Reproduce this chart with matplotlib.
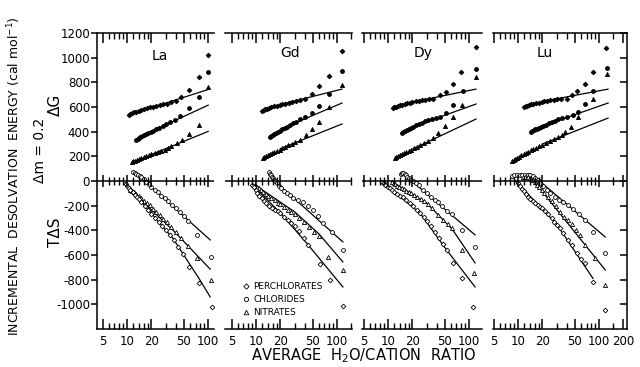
import matplotlib
matplotlib.use('Agg')
import matplotlib.pyplot as plt
from matplotlib.lines import Line2D
from matplotlib.ticker import FixedLocator, NullFormatter

plt.rcParams['font.family'] = 'DejaVu Sans'
plt.rcParams['axes.unicode_minus'] = False
plt.rcParams['axes.linewidth'] = 1.1

# ---- La ----
LA_G_PER = ([10.5, 11, 11.6, 12.3, 13, 14, 15, 16, 17.5, 19, 21, 23, 25.5, 28, 31, 35, 40, 46, 58, 77, 100],
            [535, 542, 549, 556, 563, 571, 578, 584, 591, 597, 603, 609, 616, 622, 628, 638, 652, 678, 740, 845, 1020])
LA_G_PER_FIT = ([18, 100], [585, 742])
LA_G_CHL = ([13, 13.5, 14, 14.6, 15.3, 16, 17, 18, 19.5, 21, 23, 25, 27.5, 30, 34, 39, 45, 58, 77, 100],
            [332, 340, 347, 354, 362, 369, 378, 387, 398, 408, 421, 433, 446, 460, 478, 498, 525, 590, 680, 885])
LA_G_CHL_FIT = ([20, 100], [402, 615])
LA_G_NIT = ([11.5, 12, 12.6, 13.3, 14, 15, 16, 17, 18.5, 20, 22, 24, 26.5, 29, 32, 35, 41, 48, 58, 77, 100],
            [155, 160, 166, 173, 179, 187, 195, 202, 210, 217, 226, 235, 244, 254, 266, 280, 305, 335, 385, 455, 760])
LA_G_NIT_FIT = ([20, 100], [215, 402])
LA_S_CHL = ([12, 12.5, 13, 13.6, 14.3, 15, 16, 17, 18.5, 20, 22, 24, 26.5, 29, 32, 36, 40, 45, 50, 57, 73, 109],
            [72, 64, 57, 48, 40, 30, 13, -6, -27, -46, -70, -92, -118, -140, -165, -195, -222, -252, -280, -325, -437, -615])
LA_S_CHL_FIT = ([15.8, 106], [10, -478])
LA_S_NIT = ([10.9, 11.5, 12.2, 13, 14, 15, 16.3, 17.5, 19, 21, 23, 25.5, 28, 31, 35, 40, 46, 57, 73, 109],
            [-72, -82, -93, -107, -125, -140, -160, -178, -198, -225, -250, -278, -305, -335, -372, -410, -462, -525, -624, -802])
LA_S_NIT_FIT = ([10.5, 37, 106], [-60, -400, -715])
LA_S_PER = ([9.6, 10, 10.5, 11, 11.7, 12.4, 13.2, 14, 15, 16.5, 18, 20, 22, 24.5, 27, 30, 34, 38, 43, 49, 58, 77, 112],
            [-25, -38, -55, -70, -90, -110, -130, -148, -172, -203, -232, -265, -298, -332, -362, -398, -440, -475, -535, -595, -697, -826, -1020])
LA_S_PER_FIT = ([9.4, 37, 77, 106], [-16, -467, -790, -940])

# ---- Gd ----
GD_G_PER = ([11.9, 12.4, 13, 13.7, 14.5, 15.5, 16.5, 18, 19.5, 21, 23, 25.5, 28, 31, 35, 40, 48.5, 60, 80, 115],
            [567, 574, 580, 587, 593, 599, 605, 611, 617, 622, 628, 634, 640, 646, 655, 664, 705, 770, 850, 1053])
GD_G_PER_FIT = ([20, 115], [620, 745])
GD_G_CHL = ([14.9, 15.4, 16, 16.7, 17.5, 18.5, 19.5, 21, 22.5, 24, 26, 28.5, 31, 35, 40, 48.5, 60, 80, 115],
            [356, 364, 372, 380, 389, 398, 407, 418, 430, 441, 454, 467, 480, 499, 518, 551, 608, 705, 891])
GD_G_CHL_FIT = ([20, 115], [420, 632])
GD_G_NIT = ([12.2, 12.7, 13.3, 14, 14.8, 15.7, 16.7, 18, 19.5, 21, 23, 25, 27.5, 30.5, 35, 41, 48.5, 60, 80, 115],
            [186, 193, 200, 208, 216, 225, 234, 244, 255, 265, 278, 290, 303, 316, 332, 373, 421, 478, 600, 778])
GD_G_NIT_FIT = ([20, 115], [262, 462])
GD_S_CHL = ([14.6, 14.9, 15.2, 15.6, 16, 16.6, 17.3, 18, 19, 20.5, 22, 24, 26, 29, 33, 38, 44, 50.5, 58, 67, 87, 118],
            [70, 58, 46, 36, 25, 12, -2, -20, -42, -60, -78, -98, -113, -135, -155, -170, -200, -235, -285, -340, -413, -560])
GD_S_CHL_FIT = ([17, 118], [0, -494])
GD_S_NIT = ([9.7, 10.2, 10.8, 11.5, 12.3, 13.2, 14.2, 15.5, 17, 18.5, 20, 22, 24.5, 27, 30, 34, 39, 45, 52, 60, 77, 118],
            [-32, -45, -60, -75, -92, -108, -122, -140, -158, -176, -190, -210, -232, -252, -270, -300, -335, -370, -410, -445, -616, -721])
GD_S_NIT_FIT = ([9.7, 30, 60, 118], [-32, -250, -430, -656])
GD_S_PER = ([9, 9.4, 9.9, 10.4, 11, 11.7, 12.5, 13.4, 14.5, 15.7, 17, 18.5, 20, 22, 24.5, 27, 30, 34, 39, 44, 62, 82, 118],
            [-32, -52, -75, -97, -118, -140, -162, -182, -200, -215, -232, -246, -262, -288, -315, -338, -368, -405, -460, -518, -672, -802, -1012])
GD_S_PER_FIT = ([9, 20, 44, 118], [-30, -259, -518, -859])

# ---- Dy ----
DY_G_PER = ([11.5, 12, 12.6, 13.3, 14, 15, 16, 17.2, 18.5, 20, 22, 24, 26.5, 29, 32, 35.9, 43.9, 52, 63, 79.6, 122],
            [591, 597, 603, 609, 614, 620, 626, 631, 636, 641, 646, 651, 656, 660, 664, 668, 697, 721, 786, 883, 1085])
DY_G_PER_FIT = ([20, 122], [640, 745])
DY_G_CHL = ([14.9, 15.5, 16.2, 17, 18, 19, 20.5, 22, 24, 26, 28.5, 31.5, 35, 39, 43.9, 52, 63, 85, 122],
            [389, 397, 405, 413, 422, 431, 441, 451, 462, 472, 483, 494, 505, 512, 518, 551, 616, 729, 907])
DY_G_CHL_FIT = ([20, 122], [438, 624])
DY_G_NIT = ([12.2, 12.7, 13.3, 14, 14.8, 15.7, 16.7, 18, 19.5, 21, 23, 25, 27.5, 31, 35.9, 41.5, 50.5, 63, 82, 122],
            [186, 192, 199, 207, 215, 223, 232, 243, 254, 265, 279, 292, 307, 326, 348, 389, 446, 518, 616, 842])
DY_G_NIT_FIT = ([20, 122], [258, 502])
DY_S_CHL = ([14.5, 15, 15.5, 16, 16.6, 17.3, 18, 19, 20.5, 22, 24, 27, 30, 34, 38, 41.5, 47, 54, 61.6, 82, 119],
            [60, 66, 62, 55, 45, 35, 25, 12, -3, -15, -35, -70, -95, -130, -155, -170, -200, -240, -270, -397, -535])
DY_S_CHL_FIT = ([18, 119], [20, -437])
DY_S_NIT = ([11.2, 11.7, 12.3, 13, 13.8, 14.7, 15.7, 16.8, 18, 19.5, 21, 23, 25.5, 28, 31, 35, 41.5, 48, 55, 61.6, 82, 115],
            [-8, -18, -28, -38, -48, -58, -68, -78, -88, -100, -112, -128, -148, -165, -185, -215, -275, -315, -350, -381, -559, -745])
DY_S_NIT_FIT = ([11, 30, 62, 119], [-5, -178, -390, -664])
DY_S_PER = ([8.4, 8.8, 9.3, 9.9, 10.5, 11.2, 12, 12.9, 14, 15.3, 16.8, 18.5, 20.5, 22.5, 24.8, 27.5, 30.5, 34, 38, 43, 48, 53, 63, 82, 112],
            [-8, -20, -33, -47, -60, -74, -88, -103, -118, -130, -152, -178, -205, -232, -259, -290, -322, -362, -410, -465, -510, -559, -664, -786, -1020])
DY_S_PER_FIT = ([8.4, 24.8, 53, 119], [-8, -259, -559, -859])

# ---- Lu ----
LU_G_PER = ([11.9, 12.4, 13, 13.7, 14.5, 15.5, 16.5, 18, 19.5, 21, 23, 25, 27.5, 30.5, 34, 40.3, 46.4, 53, 67, 84, 122],
            [600, 605, 611, 616, 621, 626, 631, 636, 641, 645, 650, 654, 658, 661, 663, 664, 697, 729, 786, 883, 1077])
LU_G_PER_FIT = ([20, 129], [645, 745])
LU_G_CHL = ([14.5, 15, 15.6, 16.3, 17.1, 18, 19, 20.5, 22, 24, 26, 28.5, 31.5, 35, 40, 47.7, 55, 67, 84, 125],
            [397, 404, 411, 418, 425, 432, 440, 449, 458, 468, 478, 489, 500, 511, 522, 535, 559, 624, 729, 915])
LU_G_CHL_FIT = ([20, 129], [446, 632])
LU_G_NIT = ([8.4, 8.8, 9.3, 9.8, 10.4, 11, 11.7, 12.5, 13.4, 14.4, 15.5, 16.8, 18.3, 20, 22, 24.5, 27.5, 31, 34.5, 38, 45, 55, 84, 125],
            [162, 170, 180, 189, 198, 207, 217, 227, 238, 248, 259, 270, 282, 295, 307, 322, 338, 356, 375, 395, 437, 518, 664, 867])
LU_G_NIT_FIT = ([20, 129], [300, 510])
LU_S_CHL = ([8.4, 9, 9.7, 10.5, 11.3, 12.2, 13.2, 14.2, 15.2, 16.3, 17.5, 18.8, 20.5, 22.5, 25, 28.6, 32, 36, 41.5, 48, 56, 67, 84, 119],
            [42, 45, 48, 46, 50, 47, 49, 45, 38, 25, 5, -18, -40, -70, -98, -130, -152, -172, -194, -230, -268, -316, -413, -583])
LU_S_CHL_FIT = ([17, 119], [20, -454])
LU_S_NIT = ([11.5, 12.3, 13.2, 14.2, 15.3, 16.2, 17.2, 18.3, 19.5, 21, 23.5, 26, 29, 33, 37, 41.5, 46, 52, 58, 67, 89, 119],
            [30, 35, 32, 28, 10, -10, -30, -50, -70, -95, -130, -165, -205, -251, -290, -320, -350, -395, -440, -518, -624, -842])
LU_S_NIT_FIT = ([15, 119], [15, -721])
LU_S_PER = ([10, 10.5, 11.1, 11.8, 12.5, 13.3, 14.2, 15.2, 16.3, 17.5, 18.8, 19.8, 21.5, 23.5, 26, 28, 30.3, 33, 36, 41.5, 46, 53, 60, 67, 84, 119],
            [-16, -38, -62, -85, -108, -130, -148, -165, -180, -196, -210, -219, -240, -268, -300, -330, -356, -385, -420, -478, -520, -583, -630, -664, -818, -1045])
LU_S_PER_FIT = ([9, 30, 84], [10, -350, -790])

names = ['La', 'Gd', 'Dy', 'Lu']
y_ticks = [-1000, -800, -600, -400, -200, 0, 200, 400, 600, 800, 1000, 1200]
minor_x = [6, 7, 8, 9, 12, 14, 16, 18, 30, 40, 60, 70, 80, 90, 150]
legend_labels = ['PERCHLORATES', 'CHLORIDES', 'NITRATES']

W, H = 640, 367
# pixel layout of each panel: left, width, xlim
layout = [(97, 117, (4.26, 118)), (225, 127, (4.14, 153)),
          (362, 120, (4.77, 145)), (493, 134, (4.91, 221))]

data = [
    [(LA_G_PER, LA_G_PER_FIT, 'D', True), (LA_G_CHL, LA_G_CHL_FIT, 'o', True), (LA_G_NIT, LA_G_NIT_FIT, '^', True),
     (LA_S_CHL, LA_S_CHL_FIT, 'o', False), (LA_S_NIT, LA_S_NIT_FIT, '^', False), (LA_S_PER, LA_S_PER_FIT, 'D', False)],
    [(GD_G_PER, GD_G_PER_FIT, 'D', True), (GD_G_CHL, GD_G_CHL_FIT, 'o', True), (GD_G_NIT, GD_G_NIT_FIT, '^', True),
     (GD_S_CHL, GD_S_CHL_FIT, 'o', False), (GD_S_NIT, GD_S_NIT_FIT, '^', False), (GD_S_PER, GD_S_PER_FIT, 'D', False)],
    [(DY_G_PER, DY_G_PER_FIT, 'D', True), (DY_G_CHL, DY_G_CHL_FIT, 'o', True), (DY_G_NIT, DY_G_NIT_FIT, '^', True),
     (DY_S_CHL, DY_S_CHL_FIT, 'o', False), (DY_S_NIT, DY_S_NIT_FIT, '^', False), (DY_S_PER, DY_S_PER_FIT, 'D', False)],
    [(LU_G_PER, LU_G_PER_FIT, 'D', True), (LU_G_CHL, LU_G_CHL_FIT, 'o', True), (LU_G_NIT, LU_G_NIT_FIT, '^', True),
     (LU_S_CHL, LU_S_CHL_FIT, 'o', False), (LU_S_NIT, LU_S_NIT_FIT, '^', False), (LU_S_PER, LU_S_PER_FIT, 'D', False)],
]

sizes = {'D': 2.4, 'o': 2.8, '^': 3.0}

fig = plt.figure(figsize=(W / 100, H / 100), dpi=100)
bottom, height = (H - 329) / H, 296 / H
axes = []

for i, (left, width, xlim) in enumerate(layout):
    ax = fig.add_axes([left / W, bottom, width / W, height])
    axes.append(ax)
    ax.set_xscale('log')
    ax.set_xlim(xlim)
    ax.set_ylim(-1200, 1200)

    for (x, y), (fx, fy), mk, filled in data[i]:
        ax.plot(fx, fy, color='k', lw=0.9)
        ax.plot(x, y, ls='none', marker=mk, ms=sizes[mk], mfc='k' if filled else 'white',
                mec='k', mew=0.6)

    major = [5, 10, 20, 50, 100] + ([200] if i == 3 else [])
    minor = [m for m in minor_x if xlim[0] < m < xlim[1]]
    ax.set_xticks(major, [str(m) for m in major])
    ax.xaxis.set_minor_locator(FixedLocator(minor))
    ax.xaxis.set_minor_formatter(NullFormatter())
    ax.tick_params(axis='x', which='both', direction='in', top=True, bottom=True,
                   labelsize=8.5, pad=4)
    ax.tick_params(axis='x', which='major', length=7, width=1.1)
    ax.tick_params(axis='x', which='minor', length=4.5, width=1.0)

    # zero line with crossing ticks
    ax.axhline(0, color='k', lw=1.1)
    ax.plot(major, [0] * len(major), ls='none', marker='|', ms=9, mew=1.1, color='k')
    ax.plot(minor, [0] * len(minor), ls='none', marker='|', ms=6, mew=1.0, color='k')

    ax.set_yticks(y_ticks)
    if i == 0:
        ax.spines['right'].set_visible(False)
        ax.tick_params(axis='y', direction='out', left=True, right=False, length=4,
                       width=1.1, labelsize=8.5, pad=1)
    elif i == 3:
        ax.spines['left'].set_visible(False)
        ax.tick_params(axis='y', direction='in', left=False, right=True, labelleft=False,
                       length=5, width=1.1)
    else:
        ax.spines['left'].set_visible(False)
        ax.spines['right'].set_visible(False)
        ax.tick_params(axis='y', left=False, right=False, labelleft=False)

# panel names
for name, (px, py) in zip(names, [(160, 56), (290, 53), (423, 53), (545, 53)]):
    fig.text(px / W, 1 - py / H, name, ha='center', va='center', fontsize=10)

# legend in Gd panel
handles = [Line2D([], [], ls='none', marker=m, ms=sizes[m] + 0.3, mfc='white', mec='k', mew=0.6)
           for m in ['D', 'o', '^']]
axes[1].legend(handles, legend_labels, loc='center left', bbox_to_anchor=(0.14, 0.10),
               frameon=False, fontsize=6.5, handlelength=0.8, handletextpad=0.4,
               labelspacing=0.45, borderpad=0, borderaxespad=0)

fig.text(14 / W, 1 - 176 / H, 'INCREMENTAL  DESOLVATION  ENERGY (cal mol$^{-1}$)',
         rotation=90, ha='center', va='center', fontsize=9)
fig.text(55 / W, 1 - 105 / H, '\u0394G', rotation=90, ha='center', va='center', fontsize=11)
fig.text(40 / W, 1 - 150 / H, '\u0394m = 0.2', rotation=90, ha='center', va='center', fontsize=10)
fig.text(55 / W, 1 - 232 / H, 'T\u0394S', rotation=90, ha='center', va='center', fontsize=11)
fig.text(364 / W, 1 - 356 / H, 'AVERAGE  H$_2$O/CATION  RATIO', ha='center', va='center',
         fontsize=10.5)

fig.savefig('out.png', dpi=100)
